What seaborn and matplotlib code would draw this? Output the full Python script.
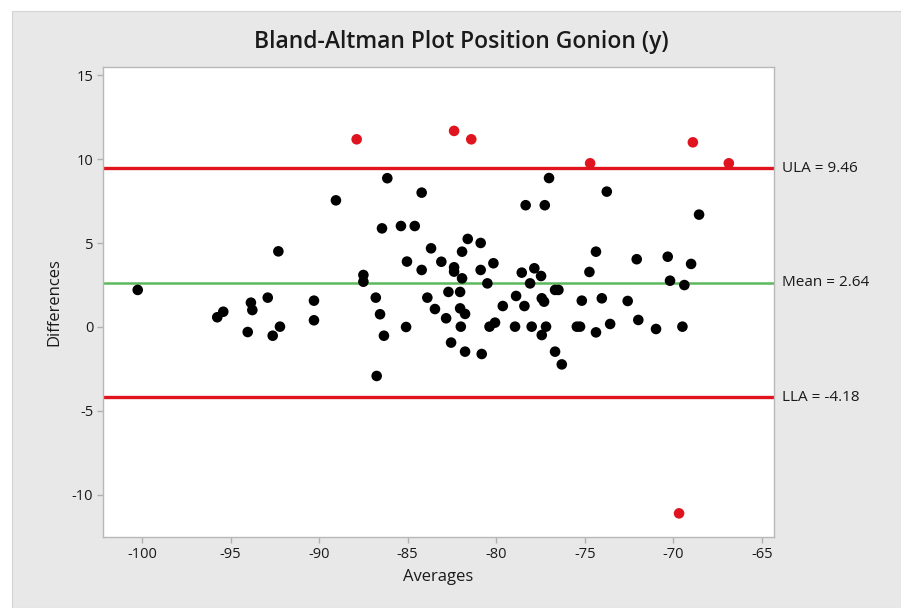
import matplotlib
matplotlib.use("Agg")
import matplotlib.pyplot as plt
import seaborn as sns
import pandas as pd
from matplotlib.patches import Rectangle

# ---- data ----
averages = [
    -100.24, -95.75, -95.41, -94.03, -93.85, -93.77, -92.90, -92.62, -92.30, -92.21,
    -90.29, -90.29, -89.05, -87.50, -87.50, -86.80, -86.75, -86.56, -86.45, -86.34,
    -86.15, -85.38, -85.09, -85.04, -84.60, -84.21, -84.21, -83.89, -83.68, -83.46,
    -83.10, -82.83, -82.70, -82.55, -82.38, -82.38, -82.04, -82.04, -82.00, -81.93,
    -81.93, -81.76, -81.76, -81.61, -80.88, -80.88, -80.82, -80.50, -80.38, -80.16,
    -80.07, -79.63, -78.94, -78.88, -78.56, -78.41, -78.34, -78.09, -78.00, -77.85,
    -77.47, -77.43, -77.43, -77.30, -77.26, -77.19, -77.02, -76.68, -76.49, -76.68,
    -76.30, -75.45, -75.27, -75.17, -74.74, -74.37, -74.37, -74.04, -73.76, -73.57,
    -72.58, -72.07, -71.98, -70.98, -70.32, -70.19, -69.49, -69.38, -69.00, -68.55,
    -87.88, -82.38, -81.41, -74.70, -68.90, -66.87, -69.68,
]
differences = [
    2.21, 0.58, 0.91, -0.30, 1.45, 1.01, 1.75, -0.52, 4.51, 0.02,
    1.57, 0.40, 7.55, 3.10, 2.70, 1.75, -2.92, 0.76, 5.88, -0.52,
    8.87, 6.02, 0.00, 3.90, 6.02, 8.01, 3.40, 1.75, 4.69, 1.07,
    3.89, 0.52, 2.09, -0.93, 3.56, 3.30, 2.09, 1.11, 0.02, 4.49,
    2.90, 0.78, -1.47, 5.25, 5.01, 3.40, -1.61, 2.60, 0.02, 3.80,
    0.26, 1.25, 0.02, 1.85, 3.24, 1.25, 7.26, 2.60, 0.02, 3.50,
    3.04, 1.71, -0.48, 1.51, 7.26, 0.02, 8.88, 2.21, 2.21, -1.47,
    -2.23, 0.02, 0.02, 1.57, 3.28, 4.49, -0.32, 1.71, 8.07, 0.18,
    1.55, 4.04, 0.42, -0.12, 4.19, 2.76, 0.02, 2.50, 3.76, 6.70,
    11.19, 11.69, 11.19, 9.76, 11.01, 9.76, -11.11,
]
mean_diff = 2.64
ula = 9.46
lla = -4.18
limit_labels = ["ULA = 9.46", "Mean = 2.64", "LLA = -4.18"]
x_ticks = [-100, -95, -90, -85, -80, -75, -70, -65]
y_ticks = [-10, -5, 0, 5, 10, 15]

df = pd.DataFrame({"Averages": averages, "Differences": differences})
df["Outside"] = (df["Differences"] > ula) | (df["Differences"] < lla)

# ---- style ----
sns.set_theme(style="white")
plt.rcParams["font.family"] = ["Open Sans", "DejaVu Sans"]

BG = "#e8e8e8"
RED = "#e0141e"
GREEN = "#5cb85c"
TXT = "#1a1a1a"

fig = plt.figure(figsize=(9.01, 6.08), dpi=100, facecolor="white")
fig.patches.append(Rectangle((12 / 901, 0), 1, 1 - 11 / 608, transform=fig.transFigure,
                             facecolor=BG, edgecolor="#d4d4d4", lw=0.8, zorder=-10))
ax = fig.add_axes([103 / 901, 1 - 537 / 608, (774 - 103) / 901, (537 - 67) / 608])
ax.set_facecolor("white")

ax.axhline(ula, color=RED, lw=2.4, zorder=1)
ax.axhline(lla, color=RED, lw=2.4, zorder=1)
ax.axhline(mean_diff, color=GREEN, lw=1.8, zorder=1)

sns.scatterplot(data=df, x="Averages", y="Differences", hue="Outside",
                palette={False: "black", True: RED}, s=58, edgecolor="none",
                legend=False, ax=ax, zorder=3)

ax.set_xlim(-102.2, -64.32)
ax.set_ylim(-12.52, 15.5)
ax.set_xticks(x_ticks)
ax.set_yticks(y_ticks)
ax.set_xticklabels([str(t) for t in x_ticks])
ax.set_yticklabels([str(t) for t in y_ticks])

for sp in ax.spines.values():
    sp.set_color("#b8b8b8")
    sp.set_linewidth(1.0)
ax.tick_params(axis="both", direction="out", length=4, width=1, color="#b0b0b0",
               labelsize=10.5, labelcolor=TXT, pad=3, bottom=True, left=True)

ax.set_xlabel("Averages", fontsize=12, color=TXT, labelpad=5)
ax.set_ylabel("Differences", fontsize=12, color=TXT, labelpad=7)

for yv, lab in zip([ula, mean_diff, lla], limit_labels):
    ax.text(1.012, yv, lab, transform=ax.get_yaxis_transform(), va="center", ha="left",
            fontsize=11, color=TXT, clip_on=False)

fig.text(461 / 901, 1 - 42 / 608, "Bland-Altman Plot Position Gonion (y)", ha="center", va="center",
         fontsize=16.5, color=TXT, fontweight="semibold")

fig.savefig("out.png", dpi=100, facecolor=fig.get_facecolor())
